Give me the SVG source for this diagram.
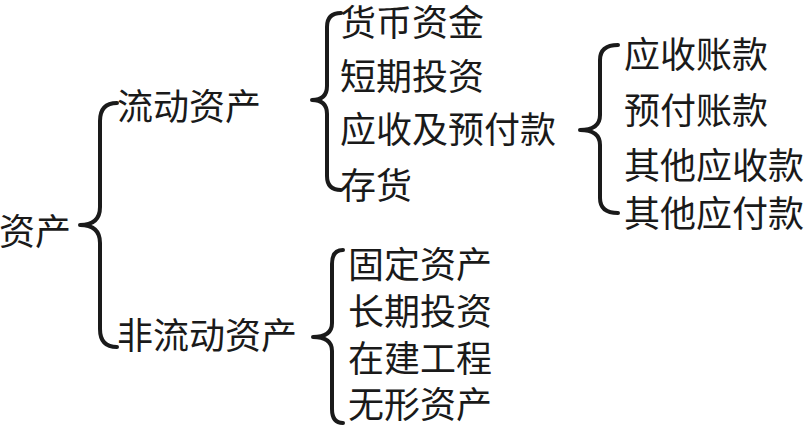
<svg xmlns="http://www.w3.org/2000/svg" width="809" height="426" viewBox="0 0 809 426">
<style>
text{font-family:"Noto Sans CJK SC","Noto Sans CJK JP",sans-serif;font-size:36px;fill:#1a1a1a;dominant-baseline:central}
.brace{fill:none;stroke:#1a1a1a;stroke-width:4;stroke-linecap:round;stroke-linejoin:round}
</style>
<rect width="809" height="426" fill="#fff"/>
<g id="connectors">
<path class="brace" d="M117,103 Q100,103 100,121 L100,207 Q100,225 80,225 Q100,225 100,243 L100,329 Q100,347 117,347"/>
<path class="brace" d="M341,13 Q327,13 327,27 L327,86 Q327,100 312,100 Q327,100 327,114 L327,176 Q327,190 341,190"/>
<path class="brace" d="M618,45 Q600,45 600,60 L600,115 Q600,130 580,130 Q600,130 600,145 L600,198 Q600,213 618,213"/>
<path class="brace" d="M343,250 Q332,250 332,264 L332,323 Q332,337 313,337 Q332,337 332,351 L332,409 Q332,423 343,423"/>
</g>
<g id="n-zichan"><text x="-1" y="229">资产</text></g>
<g id="n-liudong"><text x="117" y="104">流动资产</text></g>
<g id="n-feiliudong"><text x="117" y="333">非流动资产</text></g>
<g id="n-huobi"><text x="340" y="20">货币资金</text></g>
<g id="n-duanqi"><text x="340" y="74">短期投资</text></g>
<g id="n-yingshouji"><text x="340" y="127">应收及预付款</text></g>
<g id="n-cunhuo"><text x="340" y="183">存货</text></g>
<g id="n-yingshouzhang"><text x="624" y="52">应收账款</text></g>
<g id="n-yufuzhang"><text x="624" y="108">预付账款</text></g>
<g id="n-qitashou"><text x="624" y="163">其他应收款</text></g>
<g id="n-qitafu"><text x="624" y="211">其他应付款</text></g>
<g id="n-guding"><text x="348" y="262">固定资产</text></g>
<g id="n-changqi"><text x="348" y="309">长期投资</text></g>
<g id="n-zaijian"><text x="348" y="356">在建工程</text></g>
<g id="n-wuxing"><text x="348" y="402">无形资产</text></g>
</svg>
